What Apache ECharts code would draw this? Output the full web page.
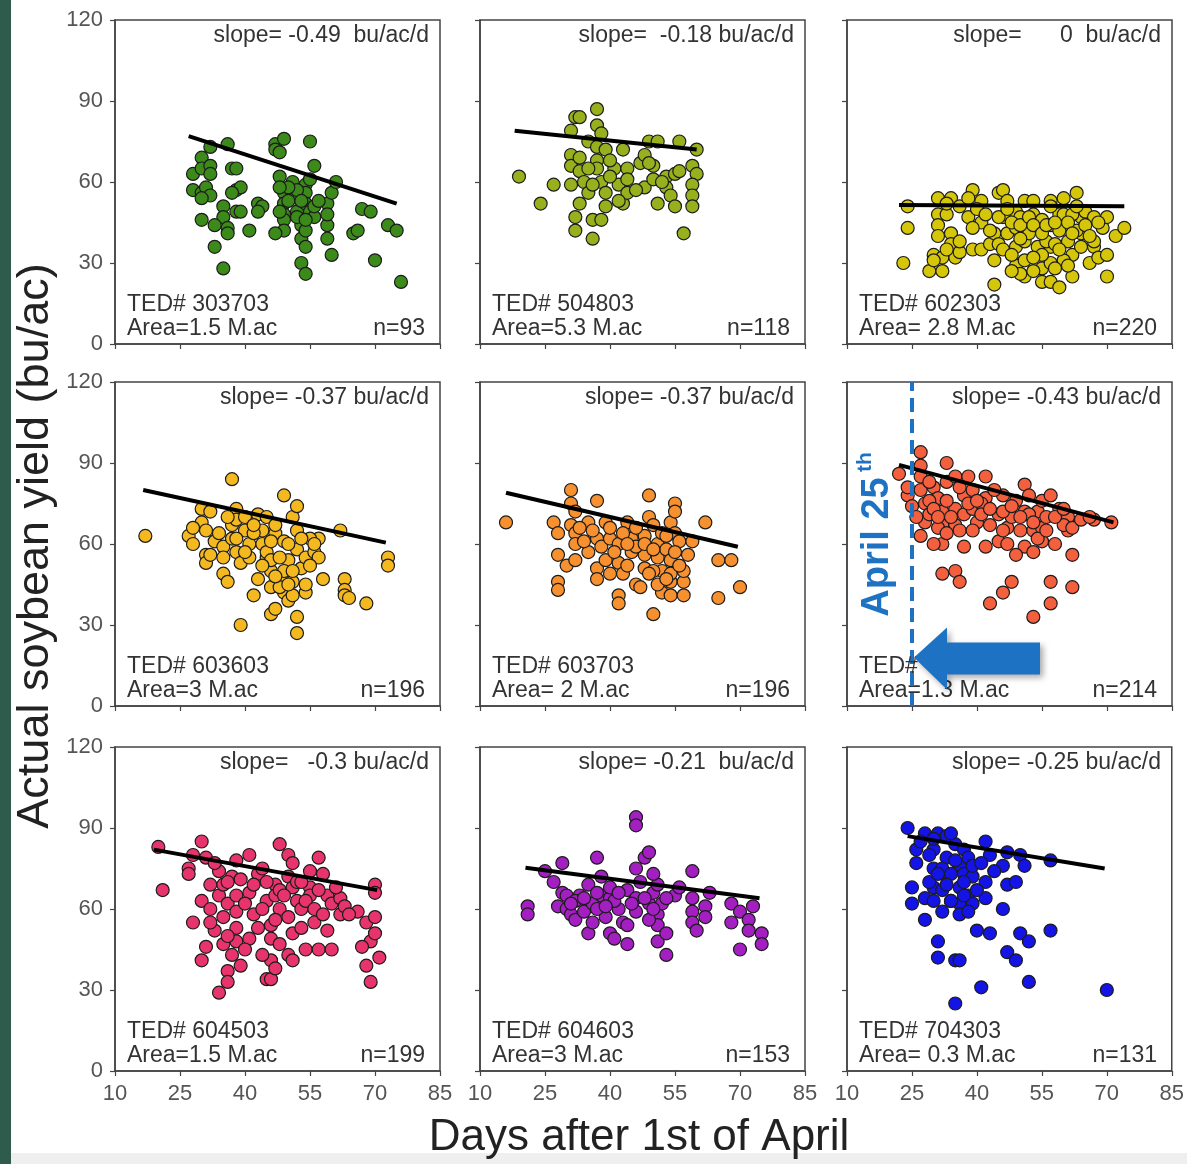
<!DOCTYPE html>
<html><head><meta charset="utf-8">
<script src="https://cdn.jsdelivr.net/npm/echarts@6/dist/echarts.min.js"></script>
<style>html,body{margin:0;padding:0;background:#fff}#c{width:1187px;height:1164px}</style>
</head><body><div id="c"></div>
<script>
// ---------------- data ----------------
const xTicks = [10, 25, 40, 55, 70, 85];
const yTicks = [0, 30, 60, 90, 120];

const p1 = [[28,63],[28,57],[30,69],[30,65],[32,66],[32,63],[32,73],[30,56],[31,58],[32,55],[36,74],[37,65],[38,65],[38,57],[39,58],[35,51],[35,47],[33,44],[30,46],[36,43],[36,41],[38,49],[39,49],[41,42],[43,52],[44,51],[43,49],[33,36],[35,28],[47,74],[47,72],[48,71],[49,76],[48,62],[49,56],[49,52],[49,48],[49,46],[49,42],[47,41],[51,60],[51,55],[52,49],[53,44],[53,39],[54,36],[53,30],[54,26],[55,75],[56,66],[54,59],[54,56],[54,52],[55,49],[56,47],[54,42],[59,52],[60,56],[61,60],[59,44],[59,39],[60,33],[65,41],[66,42],[67,50],[69,49],[73,44],[75,42],[70,31],[76,23],[52,57],[50,58],[50,53],[53,53],[55,61],[48,49],[56,51],[57,53],[52,47],[48,58],[30,54],[37,56],[54,46],[59,48]];
const p2 = [[19,62],[24,52],[27,59],[31,79],[32,84],[33,84],[37,87],[37,81],[38,78],[35,75],[31,70],[31,66],[31,59],[33,69],[33,64],[34,60],[35,56],[33,52],[32,47],[32,42],[36,46],[36,39],[38,46],[37,68],[37,65],[37,73],[39,72],[38,60],[39,56],[39,51],[41,65],[42,59],[43,72],[43,52],[44,65],[44,61],[44,56],[47,67],[48,70],[48,58],[50,66],[50,61],[49,75],[51,75],[51,52],[53,62],[53,58],[54,55],[55,63],[55,51],[56,64],[56,75],[59,66],[60,63],[59,59],[59,55],[59,51],[60,72],[57,41],[40,68],[40,62],[36,59],[35,65],[42,53],[46,57],[49,67],[52,60]];
const p3 = [[24,51],[24,43],[23,30],[29,27],[32,27],[31,54],[31,48],[31,44],[34,54],[33,48],[34,41],[34,37],[30,33],[32,32],[35,32],[36,34],[39,57],[38,47],[41,45],[39,43],[39,35],[41,35],[43,37],[44,41],[44,31],[44,22],[45,56],[46,57],[47,53],[46,47],[47,41],[49,49],[49,43],[49,36],[49,29],[51,53],[50,47],[51,38],[51,31],[51,25],[53,53],[53,48],[54,43],[54,36],[55,28],[55,23],[57,53],[57,44],[57,36],[57,30],[57,23],[59,21],[59,48],[59,42],[60,54],[61,38],[62,33],[62,25],[63,56],[64,47],[64,41],[64,36],[65,49],[66,30],[67,47],[67,36],[68,32],[69,43],[70,47],[70,33],[70,25],[72,40],[74,43],[43,42],[45,47],[55,46],[56,38],[58,37],[52,41],[50,26],[48,27],[55,33],[60,31],[63,42],[67,38],[57,51],[53,32],[41,53],[36,38],[33,35],[30,31],[60,48],[62,48],[45,37],[50,39],[47,50],[48,45],[50,44],[52,47],[53,44],[55,41],[56,44],[58,45],[59,35],[61,45],[62,41],[63,51],[65,44],[66,40],[68,45],[40,50],[42,48],[46,35],[48,33],[53,27],[58,28],[61,29],[36,51],[38,54],[33,52],[31,40]];
const p4 = [[17,63],[27,63],[30,73],[30,68],[31,65],[28,60],[31,56],[31,53],[32,72],[33,61],[35,59],[35,55],[35,49],[37,84],[37,62],[36,46],[37,67],[38,73],[38,69],[38,57],[39,53],[40,65],[40,70],[41,60],[41,55],[42,41],[43,47],[43,71],[44,65],[44,60],[45,55],[45,70],[45,57],[46,50],[46,44],[46,34],[47,64],[47,36],[47,67],[48,47],[49,78],[49,61],[49,42],[50,54],[50,39],[51,46],[51,70],[52,74],[52,65],[52,58],[52,33],[52,27],[53,51],[54,42],[54,55],[56,57],[57,62],[57,55],[58,47],[62,65],[63,47],[63,43],[63,41],[64,40],[68,38],[73,55],[73,52],[39,30],[48,44],[51,41],[34,64],[28,66],[32,56],[42,64],[55,62],[56,60],[49,50],[46,54],[51,50],[54,45],[36,70],[38,62],[40,57],[42,67],[44,52],[46,61],[48,55],[50,60],[53,62],[55,52],[47,48],[50,45]];
const p5 = [[16,68],[27,68],[28,64],[28,56],[28,46],[28,43],[30,52],[31,80],[31,75],[32,72],[31,67],[32,64],[32,60],[32,54],[35,68],[35,57],[37,76],[37,62],[37,51],[37,47],[38,59],[39,68],[39,54],[40,62],[42,60],[42,53],[42,41],[42,38],[43,49],[44,68],[45,62],[45,57],[46,45],[47,44],[48,63],[48,56],[48,51],[49,78],[49,70],[50,67],[51,60],[51,55],[50,34],[52,64],[52,50],[52,42],[53,58],[54,68],[54,54],[54,46],[54,41],[55,75],[55,72],[55,64],[56,61],[57,46],[57,41],[59,61],[62,68],[65,54],[68,54],[65,40],[70,44],[41,57],[46,59],[43,64],[34,61],[50,50],[54,49],[57,50],[49,49],[44,52],[40,49],[33,66],[36,65],[40,66],[44,60],[46,66],[48,60],[50,58],[53,63],[55,57],[56,52],[58,56],[51,45],[53,47]];
const p6 = [[22,86],[24,78],[25,74],[27,94],[27,89],[27,85],[27,80],[28,75],[28,68],[27,63],[29,71],[30,81],[31,77],[32,72],[32,67],[32,60],[33,90],[33,83],[35,73],[35,67],[35,85],[36,65],[37,78],[37,71],[37,59],[38,85],[39,80],[39,73],[40,68],[42,85],[42,77],[42,59],[43,67],[45,61],[45,71],[46,78],[47,66],[47,60],[48,70],[49,76],[50,65],[51,82],[51,72],[51,59],[53,65],[53,57],[54,72],[55,76],[55,66],[56,70],[57,78],[58,60],[59,73],[61,70],[61,65],[62,56],[67,69],[71,68],[32,49],[35,50],[36,46],[43,38],[46,42],[48,46],[53,33],[57,46],[57,38],[62,44],[31,66],[33,64],[39,65],[29,76],[52,71],[46,72],[24,81],[30,60],[49,56],[55,61],[60,67],[41,75],[26,70],[29,83],[30,73],[31,70],[33,76],[34,70],[36,81],[38,75],[40,76],[41,71],[43,73],[44,80],[46,65],[48,74],[50,70],[52,78],[53,68],[54,62],[56,65],[58,70],[60,73],[62,66],[64,69],[66,70]];
const p7 = [[20,83],[21,67],[27,75],[27,73],[28,80],[30,85],[30,63],[28,55],[30,41],[31,46],[31,79],[32,69],[32,60],[33,52],[34,74],[34,65],[35,69],[35,47],[35,57],[36,62],[36,37],[36,33],[34,29],[37,43],[37,72],[38,78],[38,65],[38,59],[38,48],[39,39],[41,80],[41,66],[42,58],[43,73],[44,75],[45,63],[45,34],[46,34],[46,41],[46,49],[46,54],[47,69],[47,65],[48,84],[48,60],[48,47],[50,80],[50,72],[50,57],[50,43],[51,77],[51,68],[51,51],[51,41],[52,63],[53,60],[54,45],[55,74],[55,68],[56,55],[57,79],[57,45],[58,73],[59,65],[59,52],[60,62],[60,45],[62,64],[62,58],[66,59],[68,55],[69,48],[68,39],[69,33],[70,69],[70,66],[70,57],[70,51],[71,42],[67,46],[43,53],[48,67],[52,70],[55,65],[38,53],[32,55],[41,49],[53,53],[57,67],[33,77],[36,70],[39,71],[40,62],[42,69],[44,60],[45,70],[47,56],[49,65],[53,70],[54,63],[56,60],[58,58],[61,68],[63,61],[64,58],[36,50],[40,45],[44,43],[47,38]];
const p8 = [[21,61],[21,58],[25,74],[27,70],[28,61],[29,77],[29,66],[30,65],[30,60],[31,58],[32,56],[33,65],[34,59],[35,69],[35,51],[36,62],[36,55],[37,79],[38,72],[38,65],[39,57],[40,64],[40,51],[40,68],[41,49],[42,60],[43,55],[44,67],[44,47],[44,54],[46,94],[46,91],[46,75],[46,64],[46,59],[47,70],[48,79],[49,81],[49,62],[50,66],[51,69],[51,58],[51,54],[51,48],[52,62],[53,51],[53,43],[55,65],[59,74],[59,64],[59,59],[59,55],[60,52],[62,61],[62,57],[63,66],[68,62],[68,55],[70,59],[70,45],[72,56],[73,61],[72,52],[75,51],[75,47],[37,60],[41,63],[49,56],[32,63],[50,73],[31,62],[34,64],[37,66],[42,66],[45,62],[48,64],[50,60],[53,64],[56,68],[39,61]];
const p9 = [[24,90],[26,82],[26,77],[25,68],[25,62],[28,88],[28,64],[28,56],[30,82],[30,75],[30,68],[30,63],[31,88],[31,48],[31,42],[32,59],[33,79],[33,87],[33,72],[34,63],[35,41],[36,41],[35,25],[35,84],[36,76],[36,68],[36,62],[36,58],[37,82],[37,73],[38,79],[38,65],[39,62],[39,72],[40,52],[41,31],[42,85],[42,70],[42,64],[43,80],[43,51],[46,60],[46,76],[47,69],[47,44],[47,81],[49,70],[49,41],[50,80],[50,51],[51,76],[52,48],[52,33],[57,78],[57,52],[70,30],[27,85],[29,70],[32,75],[34,73],[37,70],[40,67],[34,63],[32,67],[38,59],[29,80],[31,73],[33,69],[35,78],[37,65],[39,76],[41,77],[44,74],[30,86],[34,88]];

const fit1 = [[27,77],[75,52]];
const fit2 = [[18,79],[60,72]];
const fit3 = [[22,51.5],[74,51]];
const fit4 = [[16.5,80],[72.5,60.5]];
const fit5 = [[16,79],[69.5,59]];
const fit6 = [[22,89.3],[71.5,68]];
const fit7 = [[19,82],[70.5,67]];
const fit8 = [[20.5,75.3],[74.5,64]];
const fit9 = [[24,87],[69.5,75]];

const slopeLabels = ['slope= -0.49  bu/ac/d','slope=  -0.18 bu/ac/d','slope=      0  bu/ac/d','slope= -0.37 bu/ac/d','slope= -0.37 bu/ac/d','slope= -0.43 bu/ac/d','slope=   -0.3 bu/ac/d','slope= -0.21  bu/ac/d','slope= -0.25 bu/ac/d'];
const tedLabels = ['TED# 303703','TED# 504803','TED# 602303','TED# 603603','TED# 603703','TED#','TED# 604503','TED# 604603','TED# 704303'];
const areaLabels = ['Area=1.5 M.ac','Area=5.3 M.ac','Area= 2.8 M.ac','Area=3 M.ac','Area= 2 M.ac','Area=1.3 M.ac','Area=1.5 M.ac','Area=3 M.ac','Area= 0.3 M.ac'];
const nLabels = ['n=93','n=118','n=220','n=196','n=196','n=214','n=199','n=153','n=131'];
const colors = ['#3b8a1a','#97b01d','#d5c60a','#f5b920','#f7902e','#f4603e','#e8346c','#a41fc2','#1414e6'];
const markerDay = 25;

// ---------------- layout ----------------
const COLS = [115, 480, 847], ROWS = [20, 382, 747], W = 325, H = 324;
const FONT = '"Liberation Sans", Arial, sans-serif';
const pts = [p1,p2,p3,p4,p5,p6,p7,p8,p9];
const fits = [fit1,fit2,fit3,fit4,fit5,fit6,fit7,fit8,fit9];

const grids = [], xAxes = [], yAxes = [], series = [], graphics = [];
graphics.push({type:'rect', shape:{x:0,y:0,width:11,height:1164}, style:{fill:'#2f5b4d'}, z:1});
graphics.push({type:'rect', shape:{x:11,y:1153,width:1176,height:11}, style:{fill:'#efefef'}, z:1});

pts.forEach((d, i) => {
  const c = i % 3, r = Math.floor(i / 3);
  const L = COLS[c], T = ROWS[r];
  grids.push({left:L, top:T, width:W, height:H, show:true, borderColor:'#444', borderWidth:1.5, backgroundColor:'#fff', containLabel:false});
  xAxes.push({type:'value', gridIndex:i, min:xTicks[0], max:xTicks[xTicks.length-1], interval:15,
    axisLine:{show:true, onZero:false, lineStyle:{color:'#444', width:1.5}},
    axisTick:{show:true, inside:false, length:5, lineStyle:{color:'#444', width:1.2}},
    axisLabel:{show:r===2, fontSize:22, color:'#555', margin:12, fontFamily:FONT, showMinLabel:true, showMaxLabel:true},
    splitLine:{show:false}});
  yAxes.push({type:'value', gridIndex:i, min:yTicks[0], max:yTicks[yTicks.length-1], interval:30,
    axisLine:{show:true, onZero:false, lineStyle:{color:'#444', width:1.5}},
    axisTick:{show:true, inside:false, length:5, lineStyle:{color:'#444', width:1.2}},
    axisLabel:{show:c===0, fontSize:22, color:'#555', margin:12, fontFamily:FONT, showMinLabel:true, showMaxLabel:true},
    splitLine:{show:false}});
  series.push({type:'scatter', xAxisIndex:i, yAxisIndex:i, data:d, symbol:'circle', symbolSize:13,
    itemStyle:{color:colors[i], borderColor:'#1c1c1c', borderWidth:1.2, opacity:1}, z:2, silent:true});
  const line = {type:'line', xAxisIndex:i, yAxisIndex:i, data:fits[i], symbol:'none',
    lineStyle:{color:'#000', width:4}, z:3, silent:true};
  if (i === 5) {
    line.markLine = {silent:true, symbol:'none', label:{show:false}, animation:false,
      lineStyle:{color:'#1e72c4', type:[14,7], width:4}, data:[{xAxis:markerDay}], z:5};
  }
  series.push(line);
  const tf = '23px ' + FONT;
  graphics.push({type:'text', x:L+314, y:T+16, z:50, style:{text:slopeLabels[i], font:tf, fill:'#333', textAlign:'right', textVerticalAlign:'middle'}});
  graphics.push({type:'text', x:L+12, y:T+285, z:50, style:{text:tedLabels[i], font:tf, fill:'#333', textAlign:'left', textVerticalAlign:'middle'}});
  graphics.push({type:'text', x:L+12, y:T+309, z:50, style:{text:areaLabels[i], font:tf, fill:'#333', textAlign:'left', textVerticalAlign:'middle'}});
  graphics.push({type:'text', x:L+310, y:T+309, z:50, style:{text:nLabels[i], font:tf, fill:'#333', textAlign:'right', textVerticalAlign:'middle'}});
});

// axis titles
graphics.push({type:'text', x:36, y:546, rotation:Math.PI/2, z:50, style:{text:'Actual soybean yield (bu/ac)', font:'45px ' + FONT, fill:'#222', textAlign:'center', textVerticalAlign:'middle'}});
graphics.push({type:'text', x:639, y:1138, z:50, style:{text:'Days after 1st of April', font:'44px ' + FONT, fill:'#222', textAlign:'center', textVerticalAlign:'middle'}});

const chart = echarts.init(document.getElementById('c'), null, {renderer:'canvas'});
chart.setOption({animation:false, backgroundColor:'#fff', grid:grids, xAxis:xAxes, yAxis:yAxes, series:series, graphic:graphics});

// April 25th annotation anchored to the marker day in panel 6
const tip = chart.convertToPixel({xAxisIndex:5, yAxisIndex:5}, [markerDay, 18]);
const tx = tip[0] + 2, ty = tip[1];
const blue = '#1e72c4';
graphics.push({type:'polygon', z:60, shape:{points:[[tx,ty],[tx+33,ty-30],[tx+33,ty-15],[tx+126,ty-15],[tx+126,ty+17],[tx+33,ty+17],[tx+33,ty+32]]},
  style:{fill:blue, shadowBlur:6, shadowColor:'rgba(0,0,0,0.35)', shadowOffsetX:3, shadowOffsetY:3}});
graphics.push({type:'text', x:tx-36, y:547, rotation:Math.PI/2, z:60, style:{text:'April 25', font:'bold 38px ' + FONT, fill:blue, textAlign:'center', textVerticalAlign:'middle'}});
graphics.push({type:'text', x:tx-49, y:462, rotation:Math.PI/2, z:60, style:{text:'th', font:'bold 21px ' + FONT, fill:blue, textAlign:'center', textVerticalAlign:'middle'}});
chart.setOption({graphic:graphics});
</script></body></html>
